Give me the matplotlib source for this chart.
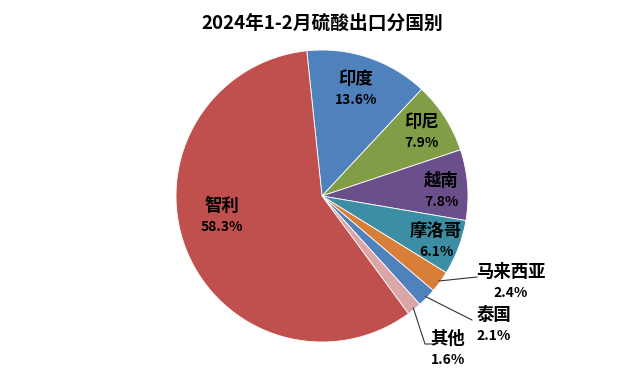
import numpy as np
import matplotlib
matplotlib.use("Agg")
import matplotlib.pyplot as plt

plt.rcParams['font.family'] = ['Noto Sans CJK SC', 'DejaVu Sans']

title = "2024年1-2月硫酸出口分国别"
countries = ["印度", "印尼", "越南", "摩洛哥", "马来西亚", "泰国", "其他", "智利"]
shares = [13.6, 7.9, 7.8, 6.1, 2.4, 2.1, 1.6, 58.3]
colors = ["#4F81BD", "#819E47", "#6A4F8B", "#3C8EA5", "#D77E38", "#4F81BD", "#DBA6A6", "#C0504D"]

# label style: inside radius fraction and angle nudge
inside = [True, True, True, True, False, False, False, True]
in_r = [0.77, 0.81, 0.82, 0.84, 0, 0, 0, 0.70]
in_dang = [1, 0, -2, -1, 0, 0, 0, -10]

W, H = 624, 378
fig = plt.figure(figsize=(6.24, 3.78), dpi=100)
ax = fig.add_axes([0, 0, 1, 1])

cx, cyp, R = 322, 196, 146
cy = H - cyp
wedges, _ = ax.pie(shares, colors=colors, startangle=96, counterclock=False,
                   center=(cx, cy), radius=R, frame=True,
                   wedgeprops=dict(linewidth=0.6, edgecolor='white'))
ax.set_xlim(0, W)
ax.set_ylim(0, H)
ax.set_aspect('auto')
ax.axis('off')

def P(x, y):
    return x, H - y

fig.text(322 / W, 1 - 23 / H, title, ha='center', va='center', fontsize=13.5, fontweight='bold')

def pt(ang, r):
    a = np.deg2rad(ang)
    return cx + r * np.cos(a), cy + r * np.sin(a)

out_info = {
    4: dict(tx=511, ty=272, elbow=None, end=(477, 277)),
    5: dict(tx=494, ty=315, elbow=None, end=(472, 320)),
    6: dict(tx=448, ty=339, elbow=(425, 344), end=(432, 344)),
}

for i, w in enumerate(wedges):
    mid = (w.theta1 + w.theta2) / 2
    if inside[i]:
        x, y = pt(mid + in_dang[i], in_r[i] * R)
        ax.text(x, y + 10, countries[i], ha='center', va='center', fontsize=12.5, fontweight='bold')
        ax.text(x, y - 11, f"{shares[i]:.1f}%", ha='center', va='center', fontsize=10, fontweight='bold')
    else:
        info = out_info[i]
        sx, sy = pt(mid, R * 0.99)
        xs = [sx]
        ys = [sy]
        if info['elbow'] is not None:
            ex, ey = P(*info['elbow'])
            xs.append(ex); ys.append(ey)
        ex, ey = P(*info['end'])
        xs.append(ex); ys.append(ey)
        ax.plot(xs, ys, color='#333333', lw=0.8)
        tx, ty = P(info['tx'], info['ty'])
        ax.text(tx, ty, countries[i], ha='center', va='center', fontsize=12.5, fontweight='bold')
        ax.text(tx, ty - 21, f"{shares[i]:.1f}%", ha='center', va='center', fontsize=10, fontweight='bold')

fig.savefig("out.png", dpi=100, facecolor='white')
